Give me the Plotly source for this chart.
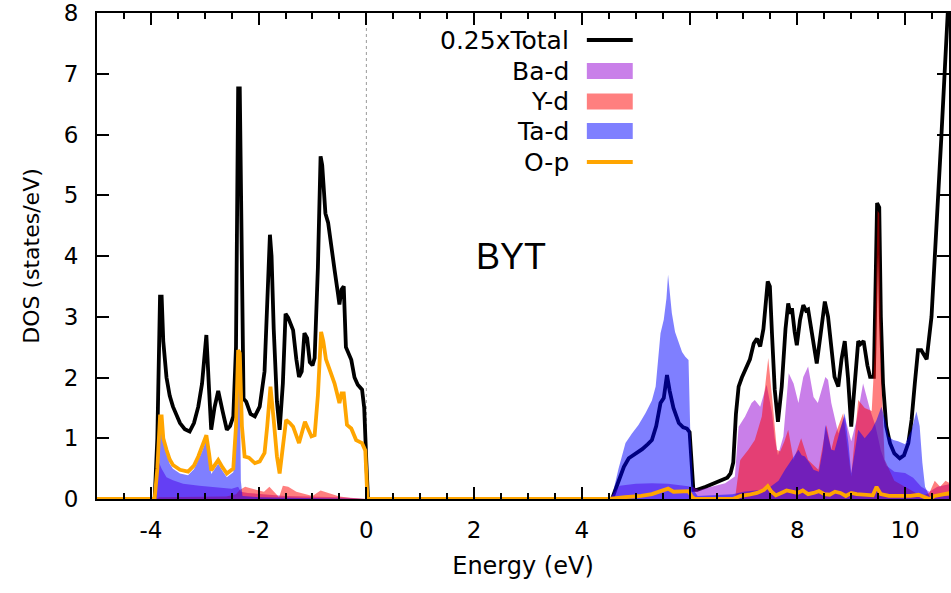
import plotly.graph_objects as go

# ---------------- data ----------------
E_total = [-5.0, -3.93, -3.88, -3.83, -3.80, -3.77, -3.71, -3.65, -3.59, -3.46, -3.37, -3.28, -3.20, -3.12,
           -3.05, -2.97, -2.92, -2.88, -2.82, -2.75, -2.67, -2.59, -2.53, -2.47, -2.42, -2.38, -2.35, -2.31,
           -2.28, -2.23, -2.15, -2.07, -1.98, -1.89, -1.84, -1.79, -1.76, -1.72, -1.66, -1.61, -1.55, -1.50,
           -1.45, -1.36, -1.30, -1.25, -1.20, -1.15, -1.10, -1.05, -1.00, -0.96, -0.90, -0.85, -0.82, -0.76,
           -0.71, -0.65, -0.59, -0.53, -0.50, -0.46, -0.42, -0.38, -0.33, -0.28, -0.22, -0.16, -0.08, -0.04,
           0.00, 0.03, 4.56, 4.70, 4.78, 4.87, 5.00, 5.12, 5.22, 5.30, 5.38, 5.46, 5.52, 5.58, 5.63, 5.70,
           5.80, 5.88, 5.95, 6.00, 6.07, 6.14, 6.30, 6.50, 6.70, 6.76, 6.81, 6.86, 6.91, 6.97, 7.03, 7.12,
           7.19, 7.25, 7.31, 7.37, 7.45, 7.49, 7.53, 7.58, 7.64, 7.71, 7.78, 7.83, 7.87, 7.90, 7.95, 7.99,
           8.05, 8.11, 8.16, 8.20, 8.27, 8.36, 8.43, 8.51, 8.57, 8.63, 8.69, 8.76, 8.82, 8.88, 8.94, 9.00,
           9.07, 9.13, 9.17, 9.23, 9.30, 9.35, 9.42, 9.46, 9.48, 9.52, 9.55, 9.59, 9.65, 9.72, 9.80, 9.90,
           9.98, 10.06, 10.12, 10.18, 10.24, 10.30, 10.40, 10.49, 10.58, 10.67, 10.74, 10.80, 10.85]
total = [0.0, 0.0, 1.0, 3.33, 3.33, 2.6, 2.0, 1.7, 1.52, 1.25, 1.15, 1.11, 1.25, 1.52,
         1.9, 2.70, 1.8, 1.14, 1.5, 1.78, 1.45, 1.14, 1.2, 1.36, 2.5, 6.76, 6.76, 3.5,
         1.65, 1.6, 1.4, 1.36, 1.52, 2.1, 3.2, 4.35, 4.0, 2.8, 1.6, 1.14, 1.9, 3.05,
         2.98, 2.78, 2.3, 2.01, 2.1, 2.73, 2.65, 2.25, 2.2, 2.32, 3.8, 5.64, 5.5, 4.7,
         4.55, 4.1, 3.77, 3.4, 3.2, 3.45, 3.5, 2.5, 2.4, 2.29, 2.0, 1.88, 1.80, 1.5,
         0.6, 0.0, 0.0, 0.35, 0.53, 0.67, 0.74, 0.82, 0.90, 0.97, 1.2, 1.58, 1.66, 2.04, 1.78, 1.5,
         1.25, 1.18, 1.16, 1.1, 0.15, 0.15, 0.2, 0.27, 0.35, 0.42, 0.6, 1.4, 1.85, 2.0, 2.12, 2.3,
         2.56, 2.64, 2.51, 2.8, 3.58, 3.5, 2.7, 1.8, 1.27, 1.85, 2.8, 3.22, 3.05, 3.14, 2.75, 2.53,
         2.95, 3.19, 3.1, 3.12, 2.73, 2.23, 2.7, 3.25, 3.0, 2.5, 2.01, 1.85, 2.3, 2.6, 2.0, 1.19,
         1.9, 2.6, 2.55, 2.6, 2.2, 2.01, 2.01, 4.0, 4.87, 4.8, 3.0, 1.9, 1.2, 0.92, 0.75, 0.67,
         0.72, 0.92, 1.3, 1.9, 2.45, 2.45, 2.3, 3.0, 4.37, 5.91, 7.12, 8.2, 9.0]

E_bad = [-5.0, -3.93, -3.88, -3.85, -3.80, -3.71, -3.59, -3.40, -3.10, -2.80, -2.50, -2.38, -2.33, -2.20,
         -2.00, -1.80, -1.50, -1.00, -0.50, 0.00, 4.50, 4.60, 4.70, 5.00, 5.30, 5.60, 5.90, 6.05, 6.17,
         6.40, 6.66, 6.84, 6.91, 7.03, 7.15, 7.21, 7.31, 7.43, 7.53, 7.58, 7.64, 7.74, 7.84, 7.93, 8.02,
         8.11, 8.20, 8.30, 8.38, 8.52, 8.57, 8.63, 8.76, 8.88, 9.00, 9.10, 9.22, 9.35, 9.45, 9.55, 9.65,
         9.80, 10.00, 10.15, 10.30, 10.45, 10.60, 10.85]
bad = [0.0, 0.0, 0.3, 0.6, 0.5, 0.36, 0.31, 0.25, 0.22, 0.2, 0.17, 0.2, 0.12, 0.1,
       0.08, 0.07, 0.05, 0.04, 0.03, 0.0, 0.0, 0.1, 0.22, 0.25, 0.26, 0.25, 0.22, 0.2, 0.15,
       0.2, 0.26, 0.37, 1.19, 1.36, 1.58, 1.63, 1.52, 1.88, 1.41, 1.0, 0.72, 1.03, 2.07, 1.90, 1.58,
       2.01, 2.18, 1.68, 1.58, 2.01, 1.96, 1.58, 1.08, 1.36, 0.95, 1.3, 1.9, 1.47, 1.2, 0.8, 0.55,
       0.45, 0.43, 0.35, 0.2, 0.12, 0.2, 0.25]

E_yd = [-5.0, -3.90, -3.85, -2.60, -2.42, -2.35, -2.25, -2.15, -2.05, -1.90, -1.80, -1.70, -1.62, -1.55,
        -1.45, -1.30, -1.15, -1.00, -0.85, -0.70, -0.50, -0.30, 0.00, 6.80, 6.85, 6.88, 6.94, 7.09, 7.21,
        7.34, 7.40, 7.46, 7.53, 7.62, 7.68, 7.76, 7.83, 7.93, 8.07, 8.20, 8.39, 8.54, 8.63, 8.69, 8.85,
        8.92, 9.00, 9.13, 9.25, 9.38, 9.44, 9.49, 9.52, 9.55, 9.62, 9.80, 10.00, 10.30, 10.45, 10.55,
        10.65, 10.75, 10.85]
yd = [0.0, 0.0, 0.03, 0.04, 0.08, 0.15, 0.2, 0.18, 0.15, 0.12, 0.2, 0.1, 0.03, 0.22,
      0.2, 0.12, 0.08, 0.05, 0.14, 0.1, 0.04, 0.02, 0.0, 0.0, 0.05, 0.26, 0.64, 0.81, 0.97,
      1.36, 1.85, 2.32, 1.68, 0.81, 0.78, 0.95, 1.14, 0.64, 1.0, 0.64, 0.48, 1.22, 0.81, 1.03, 1.41,
      0.9, 0.37, 1.63, 1.5, 1.45, 2.45, 4.75, 4.7, 2.18, 0.65, 0.3, 0.2, 0.05, 0.1, 0.3,
      0.2, 0.3, 0.25]

E_tad = [-5.0, -3.93, -3.88, -3.83, -3.80, -3.77, -3.71, -3.65, -3.59, -3.46, -3.31, -3.20, -3.12, -3.05,
         -2.97, -2.92, -2.88, -2.82, -2.75, -2.67, -2.59, -2.47, -2.42, -2.38, -2.35, -2.33, -2.30, -2.00,
         -1.00, 0.00, 4.50, 4.56, 4.68, 4.81, 4.93, 5.05, 5.18, 5.30, 5.37, 5.43, 5.46, 5.52, 5.57, 5.60,
         5.63, 5.67, 5.73, 5.80, 5.86, 5.92, 5.98, 6.01, 6.07, 6.15, 6.80, 7.00, 7.30, 7.50, 7.65, 7.77,
         7.86, 7.95, 8.02, 8.08, 8.14, 8.22, 8.30, 8.40, 8.47, 8.52, 8.58, 8.63, 8.69, 8.78, 8.88, 8.95,
         9.00, 9.07, 9.13, 9.25, 9.38, 9.47, 9.56, 9.63, 9.69, 9.78, 9.87, 10.00, 10.12, 10.21, 10.27,
         10.32, 10.37, 10.45, 10.85]
tad = [0.0, 0.0, 0.45, 1.28, 1.28, 0.93, 0.74, 0.58, 0.5, 0.42, 0.39, 0.49, 0.64, 0.78,
       0.98, 0.68, 0.41, 0.49, 0.58, 0.46, 0.36, 0.44, 1.1, 2.35, 2.3, 0.3, 0.05, 0.03,
       0.02, 0.0, 0.0, 0.04, 0.5, 0.92, 1.08, 1.22, 1.41, 1.62, 1.85, 2.4, 2.73, 2.95, 3.3, 3.69,
       3.4, 3.06, 2.75, 2.56, 2.42, 2.34, 2.29, 1.19, 0.15, 0.05, 0.08, 0.12, 0.15, 0.2, 0.3, 0.48,
       0.6, 0.7, 0.81, 0.72, 0.7, 0.6, 0.48, 0.45, 0.8, 1.22, 1.0, 0.81, 0.8, 1.1, 1.41, 0.9,
       0.42, 0.8, 1.14, 1.0, 1.14, 1.3, 1.52, 1.3, 1.03, 0.97, 0.95, 0.9, 1.14, 1.44, 1.2,
       0.6, 0.2, 0.05, 0.05]

E_op = [-5.0, -3.93, -3.88, -3.83, -3.80, -3.77, -3.71, -3.65, -3.59, -3.46, -3.31, -3.20, -3.12, -3.05,
        -2.97, -2.92, -2.88, -2.82, -2.75, -2.67, -2.59, -2.47, -2.42, -2.38, -2.35, -2.31, -2.26, -2.18,
        -2.07, -1.98, -1.89, -1.84, -1.78, -1.72, -1.66, -1.61, -1.55, -1.49, -1.42, -1.36, -1.25, -1.14,
        -1.02, -0.96, -0.90, -0.84, -0.80, -0.75, -0.67, -0.59, -0.50, -0.46, -0.42, -0.36, -0.28, -0.19,
        -0.08, -0.02, 0.02, 4.50, 4.80, 5.10, 5.30, 5.45, 5.60, 5.70, 5.85, 5.98, 6.05, 6.10, 6.80, 6.95,
        7.10, 7.25, 7.38, 7.45, 7.52, 7.60, 7.70, 7.80, 7.90, 8.00, 8.10, 8.20, 8.30, 8.40, 8.50, 8.60,
        8.70, 8.80, 8.90, 9.00, 9.10, 9.20, 9.30, 9.40, 9.47, 9.55, 9.70, 9.90, 10.10, 10.25, 10.35,
        10.45, 10.55, 10.70, 10.85]
op = [0.0, 0.0, 0.5, 1.36, 1.36, 1.0, 0.81, 0.65, 0.56, 0.48, 0.45, 0.55, 0.70, 0.85,
      1.05, 0.75, 0.47, 0.55, 0.64, 0.52, 0.42, 0.5, 1.2, 2.45, 2.4, 1.2, 0.70, 0.68,
      0.59, 0.62, 0.76, 1.2, 1.85, 1.3, 0.7, 0.42, 0.9, 1.30, 1.25, 1.19, 0.92, 1.27,
      1.03, 1.05, 1.7, 2.75, 2.6, 2.3, 2.1, 1.90, 1.58, 1.74, 1.74, 1.22, 1.16, 0.97,
      0.92, 0.80, 0.0, 0.0, 0.03, 0.05, 0.08, 0.12, 0.17, 0.12, 0.13, 0.13, 0.03, 0.0, 0.0, 0.05,
      0.07, 0.1, 0.15, 0.21, 0.12, 0.06, 0.1, 0.14, 0.12, 0.1, 0.14, 0.08, 0.1, 0.13, 0.08, 0.07,
      0.12, 0.1, 0.05, 0.1, 0.08, 0.07, 0.06, 0.06, 0.2, 0.08, 0.05, 0.05, 0.05, 0.07, 0.03,
      0.0, 0.05, 0.08, 0.1]

legend_labels = ["0.25xTotal", "Ba-d", "Y-d", "Ta-d", "O-p"]
x_ticks = [-4, -2, 0, 2, 4, 6, 8, 10]
y_ticks = [0, 1, 2, 3, 4, 5, 6, 7, 8]
label_text = "BYT"

# ---------------- styles ----------------
W, H = 951, 593
ML, MR, MT, MB = 97, 0, 13, 94
FONT = "DejaVu Sans"
C_TOTAL = "black"
C_BAD = "rgba(148,0,211,0.5)"
C_YD = "rgba(255,0,0,0.5)"
C_TAD = "rgba(0,0,255,0.5)"
C_OP = "#ffa500"
LW = 3.8

fig = go.Figure()
fig.add_trace(go.Scatter(x=E_total, y=total, mode="lines", line=dict(color=C_TOTAL, width=LW),
                         name=legend_labels[0]))
fig.add_trace(go.Scatter(x=E_bad, y=bad, mode="lines", fill="tozeroy", fillcolor=C_BAD,
                         line=dict(width=0, color=C_BAD), name=legend_labels[1]))
fig.add_trace(go.Scatter(x=E_yd, y=yd, mode="lines", fill="tozeroy", fillcolor=C_YD,
                         line=dict(width=0, color=C_YD), name=legend_labels[2]))
fig.add_trace(go.Scatter(x=E_tad, y=tad, mode="lines", fill="tozeroy", fillcolor=C_TAD,
                         line=dict(width=0, color=C_TAD), name=legend_labels[3]))
fig.add_trace(go.Scatter(x=E_op, y=op, mode="lines", line=dict(color=C_OP, width=LW),
                         name=legend_labels[4]))
# empty trace that only registers the mirrored top axis (ticks on the upper border)
fig.add_trace(go.Scatter(x=[], y=[], xaxis="x2", yaxis="y", mode="lines", showlegend=False,
                         hoverinfo="skip"))

plot_w = W - ML - MR
plot_h = H - MT - MB


def px2paper(px, py):
    return (px - ML) / plot_w, (H - MB - py) / plot_h


shapes = [dict(type="line", xref="x", yref="y", x0=0, x1=0, y0=0, y1=8, layer="below",
               line=dict(color="#999999", width=1, dash="dot"))]
annotations = []
rows_y = [40, 71, 101.5, 131, 162]
kinds = ["line", "box", "box", "box", "line"]
colors = [C_TOTAL, C_BAD, C_YD, C_TAD, C_OP]
for lab, ry, kind, col in zip(legend_labels, rows_y, kinds, colors):
    tx, ty = px2paper(572, ry)
    annotations.append(dict(xref="paper", yref="paper", x=tx, y=ty, text=lab, showarrow=False,
                            xanchor="right", yanchor="middle",
                            font=dict(family=FONT, size=25, color="black")))
    x0, y0 = px2paper(588, ry)
    x1, y1 = px2paper(634, ry)
    if kind == "line":
        shapes.append(dict(type="line", xref="paper", yref="paper", x0=x0, x1=x1, y0=y0, y1=y0,
                           line=dict(color=col, width=LW)))
    else:
        _, yb = px2paper(588, ry + 8)
        _, yt = px2paper(588, ry - 8)
        shapes.append(dict(type="rect", xref="paper", yref="paper", x0=x0, x1=x1, y0=yb, y1=yt,
                           fillcolor=col, line=dict(width=0)))

annotations.append(dict(xref="x", yref="y", x=2.0, y=4.0, text=label_text, showarrow=False,
                        xanchor="left", yanchor="middle",
                        font=dict(family="Liberation Sans, Arial", size=36, color="black")))

tick_common = dict(ticks="inside", ticklen=12, tickwidth=1.5, tickcolor="black",
                   tickfont=dict(family=FONT, size=23, color="black"))
minor_x = dict(dtick=0.5, tick0=0, ticks="inside", ticklen=6, tickwidth=1.5, tickcolor="black")
x_range = [-5.0, -5.0 + plot_w / 54.0]

fig.update_layout(
    width=W, height=H, margin=dict(l=ML, r=MR, t=MT, b=MB, pad=0),
    paper_bgcolor="white", plot_bgcolor="white", showlegend=False,
    shapes=shapes, annotations=annotations,
    xaxis=dict(range=x_range, tickmode="array", tickvals=x_ticks,
               ticktext=[str(v) for v in x_ticks], minor=minor_x,
               showgrid=False, zeroline=False, showline=True, linecolor="black", linewidth=2, mirror=True,
               title=dict(text="Energy (eV)", font=dict(family=FONT, size=24, color="black"), standoff=16),
               ticklabelstandoff=9, **tick_common),
    xaxis2=dict(range=x_range, overlaying="x", side="top", anchor="y", tickmode="array",
                tickvals=x_ticks, showticklabels=False, minor=minor_x, showgrid=False, zeroline=False,
                showline=False, **tick_common),
    yaxis=dict(range=[0, 8], tickmode="array", tickvals=y_ticks, ticktext=[str(v) for v in y_ticks],
               showgrid=False, zeroline=False, showline=True, linecolor="black", linewidth=2, mirror="ticks",
               title=dict(text="DOS (states/eV)", font=dict(family=FONT, size=22, color="black"), standoff=18),
               ticklabelstandoff=12, **tick_common),
)

fig.write_html("out.html")
